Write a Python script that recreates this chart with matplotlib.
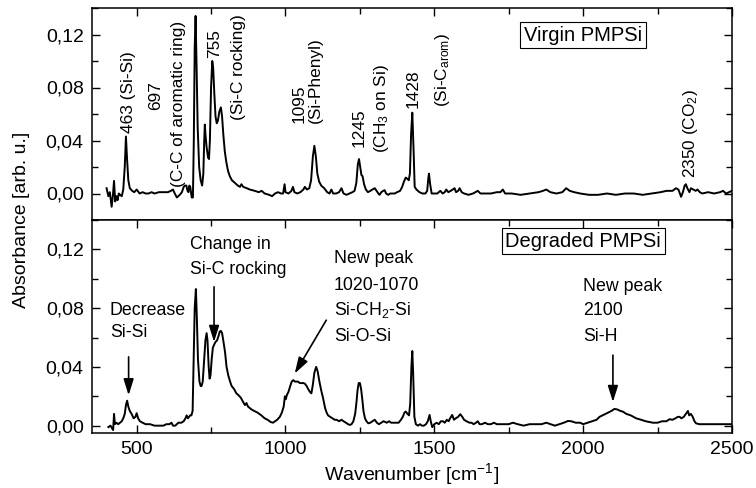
import matplotlib
matplotlib.use("Agg")
import matplotlib.pyplot as plt
from matplotlib.ticker import MultipleLocator, FuncFormatter
import numpy as np

plt.rcParams['font.family'] = ['Liberation Sans', 'DejaVu Sans']
plt.rcParams['mathtext.fontset'] = 'custom'
plt.rcParams['mathtext.rm'] = 'Liberation Sans'
plt.rcParams['mathtext.it'] = 'Liberation Sans:italic'
plt.rcParams['mathtext.bf'] = 'Liberation Sans:bold'

# ---------------- data ----------------
virgin_wn = [399, 405, 410, 416, 420, 424, 428, 432, 436, 440, 444, 450, 455, 460, 464, 468, 472, 477,
             485, 492, 500, 510, 520, 530, 540, 550, 560, 575, 590, 605, 615, 622, 628, 635, 645, 652,
             658, 662, 667, 671, 674, 677, 680, 685, 689, 692, 695, 698, 701, 705, 710, 715, 720, 724,
             727, 729, 731, 735, 740, 743, 746, 750, 754, 757, 761, 765, 769, 773, 778, 783, 787, 791,
             796, 801, 807, 813, 820, 830, 840, 847, 852, 858, 870, 880, 897, 910, 920, 930, 945, 955,
             965, 975, 985, 992, 997, 1000, 1010, 1020, 1025, 1030, 1040, 1050, 1060, 1065, 1072, 1080,
             1086, 1092, 1097, 1102, 1107, 1113, 1120, 1130, 1140, 1148, 1154, 1160, 1170, 1180, 1188,
             1195, 1205, 1215, 1225, 1232, 1238, 1243, 1247, 1251, 1255, 1259, 1264, 1270, 1277, 1285,
             1292, 1300, 1306, 1312, 1316, 1322, 1328, 1333, 1338, 1345, 1352, 1360, 1367, 1375, 1385,
             1392, 1398, 1404, 1410, 1414, 1418, 1422, 1426, 1430, 1434, 1440, 1450, 1460, 1470, 1476,
             1480, 1482, 1486, 1491, 1500, 1510, 1520, 1528, 1535, 1540, 1547, 1555, 1562, 1568, 1573,
             1580, 1585, 1592, 1600, 1615, 1630, 1646, 1655, 1670, 1690, 1710, 1722, 1730, 1738, 1760,
             1790, 1820, 1850, 1865, 1876, 1890, 1910, 1930, 1943, 1955, 1970, 1990, 2020, 2050, 2080,
             2110, 2140, 2170, 2200, 2230, 2260, 2280, 2290, 2300, 2312, 2320, 2325, 2329, 2335, 2341,
             2345, 2350, 2357, 2362, 2370, 2378, 2384, 2392, 2400, 2420, 2440, 2460, 2470, 2480, 2490,
             2500]
virgin_abs = [0.004, -0.002, 0.001, -0.010, -0.002, 0.0095, -0.006, -0.002, -0.005, 0.000, -0.001,
              -0.002, 0.003, 0.020, 0.043, 0.025, 0.010, 0.004, 0.002, 0.001, 0.003, 0.000, 0.001,
              0.000, 0.000, 0.001, 0.000, 0.001, 0.001, 0.001, 0.002, 0.003, 0.000, -0.003, -0.001,
              0.001, 0.005, 0.006, 0.006, 0.002, 0.001, 0.006, 0.005, -0.003, -0.003, 0.040, 0.110,
              0.134, 0.100, 0.050, 0.020, 0.010, 0.006, 0.015, 0.040, 0.052, 0.045, 0.035, 0.027,
              0.026, 0.040, 0.080, 0.100, 0.095, 0.075, 0.058, 0.053, 0.055, 0.062, 0.065, 0.058,
              0.045, 0.032, 0.024, 0.017, 0.013, 0.010, 0.008, 0.006, 0.005, 0.007, 0.005, 0.004,
              0.003, 0.002, 0.001, 0.002, 0.000, -0.001, -0.002, 0.000, 0.001, 0.000, 0.000, 0.007,
              0.001, 0.000, 0.002, 0.005, 0.001, 0.000, 0.001, 0.003, 0.005, 0.003, 0.004, 0.010,
              0.028, 0.036, 0.028, 0.015, 0.009, 0.006, 0.004, 0.001, 0.000, 0.003, 0.000, 0.000,
              0.001, 0.004, 0.000, -0.001, 0.000, 0.001, 0.002, 0.008, 0.022, 0.026, 0.020, 0.014,
              0.013, 0.007, 0.003, 0.001, 0.002, 0.003, 0.004, 0.002, 0.000, -0.001, 0.001, 0.002,
              0.0025, 0.000, -0.001, 0.000, 0.000, 0.000, 0.001, 0.002, 0.005, 0.009, 0.012, 0.011,
              0.010, 0.015, 0.045, 0.061, 0.035, 0.005, 0.003, 0.001, 0.000, 0.000, 0.002, 0.012,
              0.015, 0.007, 0.000, 0.000, 0.000, 0.002, 0.000, 0.001, 0.003, 0.001, 0.002, 0.003,
              0.004, 0.001, 0.002, 0.004, 0.001, 0.000, -0.001, 0.000, 0.002, 0.000, 0.000, 0.000,
              0.001, 0.001, 0.003, 0.000, 0.000, -0.001, 0.000, 0.001, 0.002, 0.003, 0.001, 0.000,
              0.001, 0.004, 0.002, 0.001, 0.000, -0.001, -0.001, 0.000, -0.001, 0.000, 0.000, -0.001,
              0.000, 0.001, 0.002, 0.002, 0.002, 0.004, 0.003, 0.000, -0.0025, 0.001, 0.006, 0.007,
              0.004, 0.001, 0.004, 0.003, 0.002, 0.003, 0.001, 0.000, 0.001, 0.000, 0.001, 0.002,
              0.000, 0.001, 0.002]

degraded_wn = [405, 412, 418, 421, 424, 427, 432, 438, 444, 450, 455, 460, 464, 468, 472, 477, 483,
               490, 496, 500, 505, 511, 520, 530, 545, 560, 578, 590, 600, 610, 617, 622, 630, 640,
               650, 658, 664, 668, 672, 676, 680, 684, 688, 691, 695, 699, 702, 706, 711, 715, 718,
               722, 727, 731, 735, 738, 742, 745, 748, 752, 756, 760, 765, 770, 775, 779, 783, 787,
               791, 797, 802, 808, 814, 819, 827, 835, 841, 850, 858, 864, 869, 874, 880, 886, 895,
               905, 919, 930, 940, 950, 958, 965, 972, 981, 988, 994, 998, 1001, 1005, 1010, 1016,
               1021, 1026, 1032, 1037, 1042, 1048, 1054, 1060, 1065, 1071, 1076, 1082, 1087, 1092,
               1097, 1103, 1108, 1114, 1120, 1126, 1133, 1138, 1143, 1150, 1158, 1165, 1172, 1180,
               1188, 1195, 1203, 1210, 1216, 1222, 1228, 1234, 1238, 1242, 1246, 1250, 1254, 1258,
               1262, 1267, 1272, 1278, 1285, 1292, 1300, 1307, 1314, 1322, 1329, 1333, 1340, 1348,
               1355, 1365, 1372, 1380, 1388, 1394, 1400, 1404, 1410, 1415, 1419, 1423, 1426, 1429,
               1433, 1438, 1445, 1452, 1458, 1465, 1472, 1478, 1484, 1488, 1493, 1500, 1508, 1515,
               1522, 1529, 1535, 1542, 1548, 1553, 1560, 1566, 1572, 1580, 1587, 1594, 1600, 1608,
               1618, 1625, 1632, 1640, 1646, 1652, 1660, 1670, 1680, 1690, 1700, 1710, 1720, 1735,
               1750, 1764, 1780, 1800, 1820, 1840, 1860, 1876, 1890, 1905, 1920, 1935, 1949, 1960,
               1975, 1990, 2000, 2015, 2030, 2045, 2055, 2065, 2075, 2085, 2095, 2105, 2115, 2125,
               2133, 2145, 2160, 2178, 2195, 2210, 2234, 2250, 2265, 2280, 2290, 2300, 2310, 2318,
               2324, 2330, 2338, 2345, 2352, 2356, 2362, 2368, 2374, 2379, 2390, 2400, 2420, 2440,
               2460, 2480, 2500]
degraded_abs = [-0.001, 0.000, -0.002, -0.003, 0.008, 0.001, 0.002, 0.001, 0.002, 0.003, 0.005,
                0.008, 0.014, 0.017, 0.013, 0.010, 0.008, 0.005, 0.006, 0.0085, 0.005, 0.003, 0.002,
                0.001, 0.001, 0.000, 0.000, 0.000, 0.001, 0.001, 0.002, 0.000, 0.000, 0.002, 0.002,
                0.003, 0.005, 0.007, 0.005, 0.006, 0.007, 0.007, 0.010, 0.040, 0.080, 0.093, 0.075,
                0.045, 0.030, 0.027, 0.027, 0.030, 0.045, 0.058, 0.063, 0.058, 0.040, 0.032, 0.034,
                0.045, 0.053, 0.055, 0.057, 0.058, 0.061, 0.064, 0.0645, 0.063, 0.058, 0.050, 0.040,
                0.034, 0.030, 0.027, 0.025, 0.022, 0.021, 0.019, 0.016, 0.014, 0.0154, 0.013, 0.012,
                0.011, 0.010, 0.009, 0.007, 0.005, 0.004, 0.0025, 0.002, 0.003, 0.004, 0.006, 0.009,
                0.013, 0.020, 0.018, 0.021, 0.023, 0.027, 0.030, 0.031, 0.030, 0.030, 0.030, 0.029,
                0.029, 0.029, 0.0286, 0.027, 0.025, 0.023, 0.022, 0.028, 0.036, 0.040, 0.037, 0.030,
                0.024, 0.019, 0.012, 0.009, 0.007, 0.006, 0.005, 0.004, 0.004, 0.003, 0.004, 0.003,
                0.002, 0.001, 0.0005, 0.001, 0.003, 0.008, 0.015, 0.024, 0.029, 0.029, 0.025, 0.018,
                0.010, 0.005, 0.003, 0.0016, 0.002, 0.003, 0.004, 0.002, 0.001, 0.002, 0.003, 0.0027,
                0.002, 0.003, 0.002, 0.002, 0.002, 0.002, 0.004, 0.006, 0.009, 0.0096, 0.008, 0.007,
                0.015, 0.040, 0.0508, 0.035, 0.006, 0.001, 0.000, 0.001, 0.000, 0.000, 0.001, 0.003,
                0.0073, 0.003, -0.001, 0.001, 0.002, 0.001, 0.003, 0.003, 0.002, 0.004, 0.003, 0.005,
                0.0073, 0.004, 0.005, 0.006, 0.0078, 0.006, 0.004, 0.003, 0.002, 0.002, 0.001, 0.002,
                0.003, 0.001, 0.001, 0.002, 0.001, 0.001, 0.002, 0.001, 0.001, 0.001, 0.001, 0.002,
                0.001, 0.000, 0.001, 0.001, 0.001, 0.002, 0.001, 0.000, 0.001, 0.002, 0.0032, 0.003,
                0.002, 0.002, 0.001, 0.002, 0.003, 0.004, 0.006, 0.007, 0.008, 0.009, 0.010, 0.0114,
                0.011, 0.010, 0.0096, 0.008, 0.007, 0.005, 0.004, 0.003, 0.002, 0.002, 0.003, 0.003,
                0.0044, 0.004, 0.005, 0.006, 0.006, 0.005, 0.006, 0.008, 0.010, 0.007, 0.008, 0.006,
                0.003, 0.0016, 0.001, 0.001, 0.001, 0.001, 0.001, 0.001, 0.001]

x_major_ticks = [500, 1000, 1500, 2000, 2500]
y_major_ticks = [0.00, 0.04, 0.08, 0.12]

# rotated peak labels on the virgin spectrum: (text, x, y-bottom)
virgin_labels = ["463 (Si-Si)", "697", "(C-C of aromatic ring)", "755", "(Si-C rocking)",
                 "1095", "(Si-Phenyl)", "1245", "(CH$_3$ on Si)", "1428",
                 "(Si-C$_{\\mathrm{arom}}$)", "2350 (CO$_2$)"]
virgin_label_x = [472, 564, 640, 763, 841, 1045, 1101, 1248, 1322, 1430, 1526, 2362]
virgin_label_y = [0.0457, 0.063, 0.0051, 0.102, 0.0555, 0.053, 0.053, 0.0353, 0.0303, 0.0643,
                  0.0655, 0.0115]

# ---------------- figure ----------------
fig = plt.figure(figsize=(7.56, 4.88), dpi=100)
L, R = 92 / 756, 732 / 756
ax1 = fig.add_axes([L, 1 - 220 / 488, R - L, (220 - 8) / 488])
ax2 = fig.add_axes([L, 1 - 433 / 488, R - L, (433 - 220) / 488])

lw = 1.4
ax1.plot(virgin_wn, virgin_abs, color='black', lw=lw)
ax2.plot(degraded_wn, degraded_abs, color='black', lw=lw)

fmt = FuncFormatter(lambda v, p: f"{v:.2f}".replace('.', ','))
for ax in (ax1, ax2):
    ax.set_xlim(350, 2500)
    ax.set_xticks(x_major_ticks)
    ax.xaxis.set_minor_locator(MultipleLocator(250))
    ax.set_yticks(y_major_ticks)
    ax.yaxis.set_minor_locator(MultipleLocator(0.02))
    ax.yaxis.set_major_formatter(fmt)
    ax.tick_params(which='both', direction='in', left=True, right=True, width=1.0,
                   labelsize=14, pad=6)
    ax.tick_params(which='major', length=5.5)
    ax.tick_params(which='minor', length=4)
    for s in ax.spines.values():
        s.set_linewidth(1.1)

ax1.set_ylim(-0.02, 0.14)
ax2.set_ylim(-0.005, 0.14)
ax1.tick_params(which='both', top=True, bottom=False, labelbottom=False)
ax2.tick_params(which='both', top=True, bottom=True)

ax2.set_xlabel("Wavenumber [cm$^{-1}$]", fontsize=14, labelpad=2)
fig.text(0.028, 0.55, "Absorbance [arb. u.]", rotation=90, fontsize=14,
         ha='center', va='center')

# virgin labels
for t, x, y in zip(virgin_labels, virgin_label_x, virgin_label_y):
    ax1.text(x, y, t, rotation=90, ha='center', va='bottom', fontsize=12.4)

box = dict(boxstyle='square,pad=0.18', fc='white', ec='black', lw=0.8)
ax1.text(2000, 0.1196, "Virgin PMPSi", ha='center', va='center', fontsize=14.5, bbox=box)
ax2.text(2000, 0.1257, "Degraded PMPSi", ha='center', va='center', fontsize=14.5, bbox=box)

# degraded annotations
tf = 12.8
ax2.text(410, 0.0786, "Decrease", fontsize=tf, va='center', ha='left')
ax2.text(410, 0.0632, "Si-Si", fontsize=tf, va='center', ha='left')
ax2.text(679, 0.123, "Change in", fontsize=tf, va='center', ha='left')
ax2.text(679, 0.106, "Si-C rocking", fontsize=tf, va='center', ha='left')
ax2.text(1163, 0.1139, "New peak", fontsize=tf, va='center', ha='left')
ax2.text(1163, 0.0957, "1020-1070", fontsize=tf, va='center', ha='left')
ax2.text(1163, 0.0786, "Si-CH$_2$-Si", fontsize=tf, va='center', ha='left')
ax2.text(1163, 0.0604, "Si-O-Si", fontsize=tf, va='center', ha='left')
ax2.text(1999, 0.0945, "New peak", fontsize=tf, va='center', ha='left')
ax2.text(1999, 0.0782, "2100", fontsize=tf, va='center', ha='left')
ax2.text(1999, 0.0604, "Si-H", fontsize=tf, va='center', ha='left')

ap = dict(arrowstyle='-|>,head_length=0.7,head_width=0.22', color='black', lw=1.2,
          mutation_scale=14, shrinkA=0, shrinkB=0)
ax2.annotate("", xy=(473, 0.0207), xytext=(473, 0.0468), arrowprops=ap)
ax2.annotate("", xy=(760, 0.057), xytext=(760, 0.0945), arrowprops=ap)
ax2.annotate("", xy=(1031, 0.0355), xytext=(1137, 0.0718), arrowprops=ap)
ax2.annotate("", xy=(2100, 0.0161), xytext=(2100, 0.048), arrowprops=ap)

fig.savefig("out.png", dpi=100)
